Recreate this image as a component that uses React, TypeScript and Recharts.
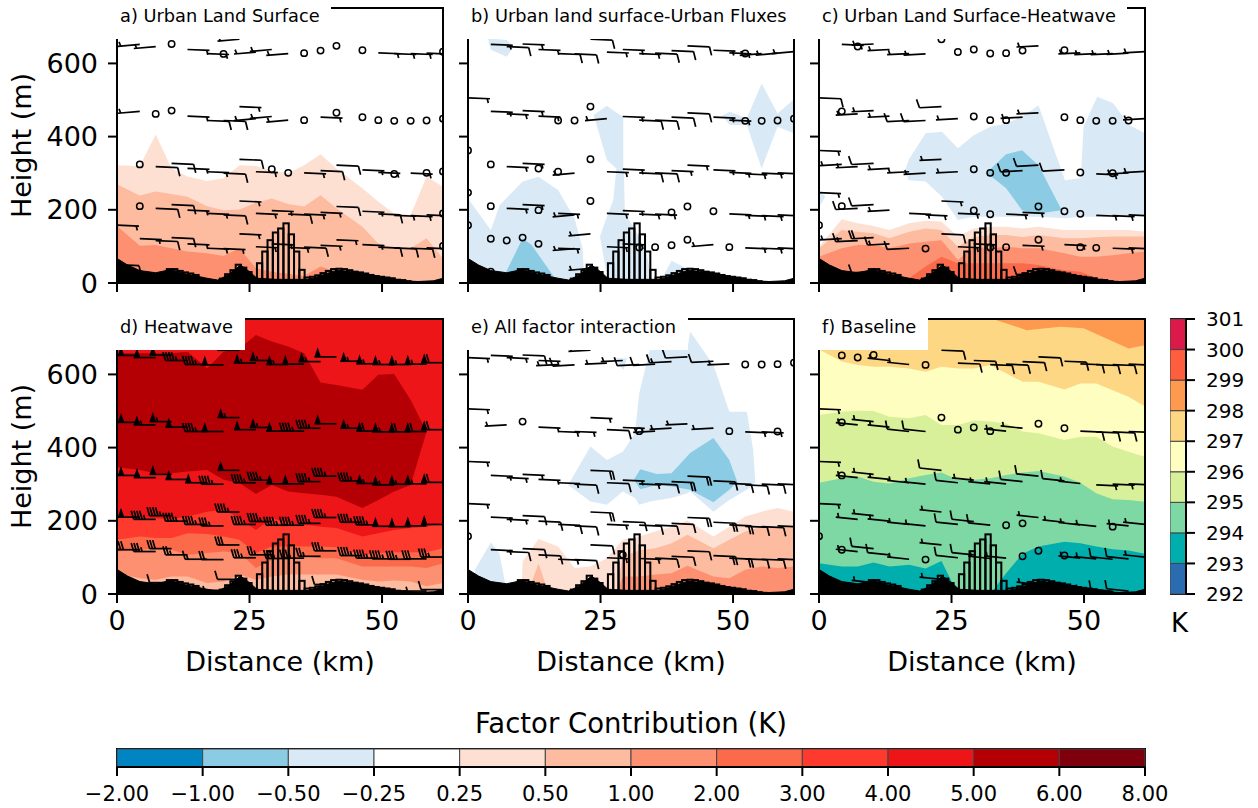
import React from "react"
import { Area, Bar, BarChart, ComposedChart, ReferenceArea, Scatter, XAxis, YAxis } from "recharts"

const n = null

// model columns shared by every panel (km along the cross section)
const gridKm = [0, 4.3, 7.3, 10.3, 13.3, 17, 20.1, 23.1, 26.2, 29.2, 32.3, 35.3, 38.4, 41.4, 46.3, 49.3, 52.3, 55.4, 58.4, 61.5]

// heights of the wind levels (m)
const level1 = [646, 652, 646, 653, 638, 627, 626, 666, 631, 638, 627, 628, 635, 648, 636, 629, 627, 627, 628, 632]
const level2 = [506, 469, 462, 471, 456, 444, 444, 482, 449, 455, 445, 445, 453, 465, 453, 445, 443, 443, 444, 449]
const level3 = [362, 324, 318, 327, 313, 304, 300, 338, 304, 311, 301, 301, 307, 322, 309, 302, 298, 300, 301, 305]
const level4 = [247, 210, 204, 214, 199, 190, 186, 224, 190, 198, 188, 188, 193, 209, 196, 189, 185, 184, 186, 190]
const level5 = [158, 121, 116, 124, 107, 95, 94, 134, 99, 107, 97, 98, 103, 118, 105, 98, 96, 95, 96, 101]
const level6 = [50, 31, 26, 31, 19, 13, 10, 40, 13, 19, 10, 10, 13, 26, 17, 12, 8, 7, 8, 12]
const levels = [level1, level2, level3, level4, level5, level6]

const terrainKm = [0, 2, 4.3, 7.3, 10.2, 12.6, 17, 19, 21, 23.3, 25, 26.4, 30, 36, 37, 39.6, 41.5, 44.6, 49, 53.5, 56.6, 59.7, 61.5]
const terrainHeight = [67, 49, 34, 28, 37, 26, 13, 8, 22, 49, 31, 13, 10, 10, 13, 26, 35, 31, 17, 6, 4, 6, 13]

const urbanKm = [9.9, 10.9, 11.9, 12.9, 13.9, 14.9, 19.9, 20.9, 21.9, 22.9, 23.9, 24.9, 25.9, 26.9, 27.9, 28.9, 29.9, 30.9, 31.9, 32.9, 33.9, 34.9, 35.9, 36.9, 37.9, 38.9, 39.9, 40.9, 41.9, 42.9, 43.9, 44.9, 45.9, 46.9, 47.9, 48.9, 49.9, 50.9, 51.9, 52.9, 53.9, 54.9, 55.9]
const urbanHeight = [38, 38, 33, 29, 26, 22, 12, 24, 35, 50, 42, 30, 12, 54, 86, 117, 138, 149, 163, 133, 86, 36, 15, 17, 21, 27, 33, 38, 39, 38, 35, 31, 29, 26, 22, 19, 17, 15, 13, 9, 8, 5, 3]

// factor contribution colours
const blue1 = "#8ccbe4"
const blue2 = "#d9eaf6"
const red025 = "#fee0d3"
const red05 = "#fdbba0"
const red1 = "#fc9070"
const red2 = "#fb6a4a"
const red3 = "#fe3a2e"
const red4 = "#ee1519"
const red5 = "#b40005"

// panel a
const aTop025 = [322, 320, 406, 313, 291, 279, 286, 322, 320, 307, 300, 322, 352, 313, 259, 222, 190, 186, 291, 263]
const aTop05 = [270, 239, 250, 243, 236, 210, 199, 201, 219, 231, 216, 209, 240, 204, 154, 108, 95, 95, 122, 67]
const aTop1 = [156, 102, 104, 95, 86, 81, 74, 95, 40, 31, 25, 19, 45, 31, 13, 0, 0, 0, 0, 0]
const aWind1 = [-1, -1, -1, 0, 1, 1, 0, -1, -1, -1, -1, 0, 0, 0, 0, 1, 1, 1, 1, 0]
const aWind2 = [-1, -1, 0, 0, 1, 2, 2, 1, -1, -1, -1, 0, 1, 0, 0, 0, 0, 0, 0, 0]
const aWind3 = [n, 0, 2, 2, 1, 1, 2, 2, 1, 0, 0, 1, 2, 2, 1, 1, 0, 1, 0, 0]
const aWind4 = [n, 0, 2, 2, 1, 1, 2, 1, 1, 1, 2, 1, 1, 2, 1, 2, 1, 1, 1, 0]
const aWind5 = [1, 1, 2, 2, 1, 1, 1, 1, 1, 1, 1, 2, 1, 1, 1, 2, 2, 2, 1, 0]
const aWind6 = [2, n, n, n, n, n, n, n, n, n, n, n, n, n, n, n, n, n, n, n]

// panel b
const bTopKm = [3.8, 4.3, 7.3, 8.6]
const bTopLo = [666, 637, 618, 646]
const bTopHi = [666, 668, 664, 646]
const bLeftKm = [0, 4.3, 6, 10.3, 13.3, 17, 20.1, 21.6, 22]
const bLeftHi = [231, 145, 213, 277, 290, 254, 177, 95, 4]
const bCoreKm = [7, 10.3, 12, 16.4]
const bCoreHi = [25, 122, 104, 13]
const bUpperKm = [23.7, 26.2, 28, 29.3]
const bUpperLo = [459, 336, 313, 309]
const bUpperHi = [459, 484, 465, 454]
const bLowerKm = [24.9, 26.2, 27.4, 28, 29.4, 29.6, 31.2, 33.7, 34.7]
const bLowerLo = [127, 20, 0, 0, 0, 0, 0, 0, 0]
const bLowerHi = [127, 181, 227, 313, 313, 190, 154, 81, 4]
const bFootKm = [36.5, 38.4, 41.9, 44]
const bFootHi = [10, 61, 35, 0]
const bRightKm = [47.9, 49.4, 52.6, 55.4, 58.4, 61.5]
const bRightLo = [457, 432, 432, 313, 427, 409]
const bRightHi = [457, 468, 450, 545, 463, 502]
const bWind1 = [n, 1, 2, 1, 1, 2, 2, 2, 1, 1, 1, 2, 2, 2, 1, 1, 0, -1, -1, -1]
const bWind2 = [1, 1, 1, 1, 1, 0, 0, 0, -1, 1, 2, 2, 2, 2, 1, 1, 0, 0, 0, 0]
const bWind3 = [0, 0, 1, 1, 0, 0, -1, 0, 1, 1, 2, 2, 1, 1, 1, 1, 1, 1, 1, n]
const bWind4 = [0, 0, 1, 1, 0, 1, -1, 0, 1, 1, 1, 1, 0, 0, 0, 1, 1, 1, 1, n]
const bWind5 = [0, 0, 0, 0, 0, 1, -1, -1, 1, 1, 0, 0, 0, 0, -1, 0, 1, 1, 1, n]
const bWind6 = [n, 0, -1, n, n, n, n, -1, n, n, n, n, n, n, n, n, n, n, n, n]

// panel c
const cTop025 = [99, 174, 163, 156, 145, 163, 170, 168, 127, 149, 154, 154, 149, 154, 145, 145, 145, 145, 145, 140]
const cTop05 = [95, 145, 140, 136, 122, 140, 149, 145, 99, 126, 131, 131, 126, 131, 122, 122, 125, 127, 127, 127]
const cTop1 = [72, 95, 104, 104, 95, 108, 113, 117, 63, 99, 95, 99, 95, 95, 81, 72, 72, 76, 81, 86]
const cTop2 = [0, 0, 0, 0, 0, 13, 45, 72, 54, 54, 54, 54, 54, 49, 35, 31, 13, 4, 0, 0]
const cCoolKm = [16.3, 16.9, 20.1, 23.2, 26.2, 29.2, 32.3, 35.3, 38.3, 41.4, 46.4, 49.4, 49.9, 52.5, 55.5, 58.5, 61.5]
const cCoolLo = [309, 281, 277, 236, 172, 181, 181, 181, 181, 181, 177, 181, 181, 181, 181, 181, 186]
const cCoolHi = [309, 336, 409, 413, 368, 404, 427, 436, 454, 486, 281, 286, 427, 509, 491, 432, 409]
const cCoreKm = [31.6, 35.3, 38.3, 41.4, 45.8]
const cCoreLo = [301, 259, 199, 190, 199]
const cCoreHi = [301, 352, 363, 322, 199]
const cEdgeKm = [0, 1.2]
const cEdgeLo = [208, 236]
const cEdgeHi = [254, 236]
const cWind1 = [n, 1, 0, -1, -1, -1, -1, 0, 0, 0, 0, 0, 0, -1, 0, -1, -1, -1, -1, -1]
const cWind2 = [2, 0, -1, -1, -1, -2, -2, -2, -1, 0, 0, 0, -1, -1, 0, 0, 0, 0, 0, -1]
const cWind3 = [1, -1, -1, -2, -1, -1, -1, -1, -1, 0, 0, 0, -2, -2, -2, 0, 1, 0, -1, -1]
const cWind4 = [1, 0, -2, -2, -1, 1, 1, 1, 1, 0, 0, 1, 1, 0, 0, 0, 1, 1, 2, n]
const cWind5 = [0, -3, -3, -4, -3, -2, 0, 2, 1, 1, 0, 0, 1, 0, 1, 0, 0, 1, 1, n]
const cWind6 = [n, n, n, -2, n, n, n, n, n, n, n, n, n, -2, n, n, n, n, n, n]

// panel d
const dHotLo = [346, 339, 330, 330, 335, 339, 312, 303, 273, 298, 280, 275, 271, 266, 235, 257, 280, 298, 444]
const dHotHi = [658, 658, 658, 658, 662, 617, 662, 671, 708, 690, 676, 658, 578, 571, 558, 599, 601, 530, 444]
const dTop3 = [210, 210, 207, 205, 212, 225, 230, 207, 175, 207, 194, 189, 184, 180, 157, 166, 175, 180, 184, 194]
const dTop2 = [148, 157, 153, 153, 166, 164, 157, 148, 112, 130, 130, 130, 130, 128, 107, 112, 114, 114, 114, 125]
const dTop1 = [116, 121, 125, 121, 107, 112, 116, 112, 71, 93, 98, 103, 98, 98, 75, 75, 75, 75, 71, 84]
const dTop05 = [57, 43, 39, 48, 48, 30, 34, 53, 39, 48, 53, 53, 53, 53, 39, 34, 37, 34, 21, 30]
const dCeiling = [752, 752, 752, 752, 752, 752, 752, 752, 752, 752, 752, 752, 752, 752, 752, 752, 752, 752, 752, 752]
const dWind1 = [n, -10, -10, -10, -9, -9, -10, -10, -11, -11, -11, -10, -11, -10, -11, -11, -11, -11, -11, -12]
const dWind2 = [n, -10, -11, -11, -10, -9, -10, -11, -10, -11, -10, -9, -9, -10, -11, -12, -11, -12, -12, -12]
const dWind3 = [n, -10, -10, -10, -10, -10, -9, -10, -9, -9, -10, -10, -9, -9, -9, -11, -11, -11, -11, -12]
const dWind4 = [n, -10, -9, -9, -9, -9, -7, -9, -9, -9, -9, -9, -9, -9, -9, -9, -10, -10, -10, -10]
const dWind5 = [n, -6, -7, -6, -5, -3, -4, -6, -7, -5, -7, -7, -5, -7, -9, -9, -9, -7, -6, -7]
const dWind6 = [n, n, n, -2, n, n, -1, -2, n, n, n, n, n, -2, n, n, n, n, -1, -2]

// panel e
const eColdKm = [1.3, 4.3, 5.9, 7]
const eColdHi = [66, 141, 112, 30]
const eTop025Km = [10.1, 10.3, 13.3, 17, 20.1, 23.1, 26.2, 29.2, 32.3, 35.3, 38.4, 41.4, 46.3, 49.3, 52.3, 55.4, 58.4, 61.5]
const eTop025 = [3, 89, 150, 130, 71, 75, 98, 148, 157, 171, 184, 201, 157, 184, 212, 225, 235, 225]
const eTop05Km = [28, 29.2, 32.3, 35.3, 38.4, 41.4, 46.3, 49.3, 52.3, 55.4, 58.4, 61.5]
const eTop05 = [3, 103, 119, 125, 139, 162, 125, 148, 171, 184, 180, 186]
const eTop1Km = [28, 29.2, 32.3, 35.3, 38.4, 41.4, 46.3, 49.3, 52.3, 55.4, 58.4, 61.5]
const eTop1 = [0, 48, 48, 53, 57, 77, 48, 43, 66, 75, 71, 75]
const eSpikeKm = [11.7, 13.3, 14.8]
const eSpikeHi = [20, 84, 20]
const eCoolKm = [18.9, 23.1, 26.2, 29.2, 31.5, 32.3, 34.3, 38.4, 41.4, 41.9, 46.3, 49.3, 52.6, 53.8, 54.2]
const eCoolLo = [298, 253, 244, 280, 262, 244, 253, 262, 275, 280, 225, 257, 285, 298, 307]
const eCoolHi = [298, 403, 366, 389, 439, 548, 669, 669, 669, 717, 626, 498, 498, 394, 307]
const eNickKm = [27.7, 29.3, 30]
const eNickLo = [644, 612, 644]
const eNickHi = [644, 644, 644]
const eCoreKm = [31.3, 32.5, 35.6, 38.4, 41.9, 46.3, 49.3, 50.8]
const eCoreLo = [312, 286, 298, 294, 285, 251, 285, 307]
const eCoreHi = [312, 341, 328, 330, 385, 426, 366, 307]
const eWind1 = [1, 1, 1, 2, 1, -1, -2, -1, -1, -1, -2, -2, -3, -2, -2, -1, 0, 0, 0, 0]
const eWind2 = [1, n, -1, 0, 1, 1, 1, 1, 2, 1, 0, -1, -1, -1, -1, 0, 1, 1, 0, n]
const eWind3 = [1, 1, 1, 1, 1, 1, 2, 4, 2, 1, 1, 2, 4, 4, 2, 2, 2, 2, 2, n]
const eWind4 = [1, 1, 1, 2, 2, 2, 2, 4, 1, 2, 2, 2, 2, 4, 4, 4, 2, 2, 2, n]
const eWind5 = [0, 1, 2, 2, 2, 1, 2, 2, 1, 0, 1, 2, 2, 2, 4, 4, 2, 2, 2, n]

// panel f
const fCeiling = dCeiling
const fWarmKm = [33.5, 39.2, 45.5, 49.9, 58.4, 61.5]
const fWarmLo = [748, 721, 730, 726, 671, 680]
const fWarmHi = [751, 751, 751, 751, 751, 751]
const fTop296 = [668, 635, 626, 621, 621, 616, 607, 621, 616, 616, 626, 603, 580, 580, 559, 575, 575, 557, 539, 512]
const fTop295 = [489, 498, 501, 500, 484, 480, 489, 462, 462, 474, 471, 466, 444, 439, 421, 430, 430, 403, 389, 375]
const fTop294 = [304, 316, 321, 307, 302, 316, 325, 332, 312, 312, 316, 325, 332, 336, 321, 304, 275, 259, 257, 252]
const fTop293 = [84, 75, 75, 86, 75, 80, 70, 90, 0, 0, 0, 57, 110, 130, 143, 139, 130, 122, 119, 110]
const fWind1 = [n, 0, 0, 0, -1, -1, 0, 2, 2, 2, 2, 2, 2, 2, 2, 2, 2, 2, 2, n]
const fWind2 = [1, 0, -1, -1, -1, -2, -2, 0, 0, 0, 0, -1, -1, 0, 0, 2, 2, 2, 2, n]
const fWind3 = [1, 0, -1, -1, -1, -1, -1, -2, -2, -1, -1, -1, -2, -2, -2, -1, 1, 1, 1, n]
const fWind4 = [1, n, -1, -1, -1, -1, -1, -1, -2, -2, -2, 0, 0, -1, -1, -1, -1, 0, -1, -1]
const fWind5 = [0, 0, -1, -2, -2, -1, 0, -1, -2, -2, -1, -1, 0, 0, 0, -1, -1, -2, -2, -1]
const fWind6 = [n, n, n, -1, n, n, n, -1, n, n, n, n, n, -1, n, n, -1, -2, -2, n]

// colour bars
const factorLabels = ["\u22122.00", "\u22121.00", "\u22120.50", "\u22120.25", "0.25", "0.50", "1.00", "2.00", "3.00", "4.00", "5.00", "6.00", "8.00"]
const factorColors = ["#0084c2", blue1, blue2, "#ffffff", red025, red05, red1, red2, red3, red4, red5, "#7e000d"]
const kelvinLabels = ["292", "293", "294", "295", "296", "297", "298", "299", "300", "301"]
const kelvinColors = ["#2b6cb0", "#00aeae", "#7ed8a3", "#d9f09a", "#fefec0", "#fed784", "#fe9a50", "#fe5d3e", "#dc1a49"]

const font = "'DejaVu Sans', sans-serif"
const PLOT_W = 326
const PLOT_H = 275
const LEFT = 117
const TOP = 8
const X_AXIS_H = 84
const KM_PX = 5.3

interface Band { km: number[]; hi: number[]; lo?: number[]; color: string }

function bandRows(b: Band) {
  return b.km.map((km, i) => ({ km, band: [b.lo ? b.lo[i] : 0, b.hi[i]] }))
}

function windRows(rows: (number | null)[][]) {
  const out: { km: number; h: number; s: number }[] = []
  rows.forEach((row, r) => {
    row.forEach((s, i) => {
      if (s !== null) out.push({ km: gridKm[i], h: levels[r][i], s })
    })
  })
  return out
}

// speed is counted in half barbs, the sign says which way the shaft runs
function Barb({ cx, cy, speed, leftTilt }: { cx: number; cy: number; speed: number; leftTilt: number }) {
  if (speed === 0) {
    return <circle cx={cx} cy={cy} r={3.2} fill="none" stroke="#000" strokeWidth={1.5} clipPath="url(#plotClip)" />
  }
  const abs = Math.abs(speed)
  const angle = speed > 0 ? 2.5 : 180 + leftTilt
  let left = abs
  let pos = 22
  const parts: React.ReactNode[] = [<line key="s" x1={0} y1={0} x2={22} y2={0} />]
  while (left >= 10) {
    parts.push(<polygon key={`f${left}`} points={`${pos},0 ${pos - 6.5},0 ${pos - 3.2},9.5`} fill="#000" stroke="none" />)
    pos -= 8
    left -= 10
  }
  while (left >= 2) {
    parts.push(<line key={`b${left}`} x1={pos} y1={0} x2={pos + 2.5} y2={8.5} />)
    pos -= 2.8
    left -= 2
  }
  if (left === 1) {
    if (abs === 1) pos -= 2.8
    parts.push(<line key="h" x1={pos} y1={0} x2={pos + 1.3} y2={4.3} />)
  }
  return (
    <g clipPath="url(#plotClip)">
      <g transform={`translate(${cx},${cy}) rotate(${angle})`} stroke="#000" strokeWidth={1.7} fill="none">
        {parts}
      </g>
    </g>
  )
}

// one km wide outline, whatever width the numeric axis hands the bar
function UrbanBar(p: any) {
  return <rect x={p.x + p.width / 2 - KM_PX / 2} y={p.y} width={KM_PX} height={p.height} fill="none" stroke="#000" strokeWidth={2} />
}

const urbanRows = urbanKm.map((km, i) => ({ km, urban: urbanHeight[i] }))
const terrainRows = terrainKm.map((km, i) => ({ km, ground: terrainHeight[i] }))

interface PanelProps {
  title: string
  titleWidth: number
  left: number
  top: number
  bands: Band[]
  wind: (number | null)[][]
  leftTilt: number
  showY: boolean
  showX: boolean
}

function Panel({ title, titleWidth, left, top, bands, wind, leftTilt, showY, showX }: PanelProps) {
  return (
    <div style={{ position: "absolute", left: left - LEFT, top: top - TOP }}>
      <ComposedChart
        width={LEFT + PLOT_W + 8}
        height={TOP + PLOT_H + X_AXIS_H}
        data={urbanRows}
        margin={{ top: TOP, right: 8, bottom: 0, left: 0 }}
        style={{ fontFamily: font }}
        barCategoryGap={0}
        barGap={0}
      >
        <XAxis
          dataKey="km"
          type="number"
          domain={[0, 61.5]}
          ticks={[0, 25, 50]}
          interval={0}
          allowDataOverflow
          height={X_AXIS_H}
          tickSize={9}
          tickMargin={8}
          axisLine={{ stroke: "#000", strokeWidth: 2 }}
          tickLine={{ stroke: "#000", strokeWidth: 2 }}
          tick={{ fill: "#000", fontSize: 27 }}
          tickFormatter={(v: number) => (showX ? String(v) : "")}
          label={showX ? { value: "Distance (km)", position: "insideBottom", offset: 7, fill: "#000", fontSize: 27 } : undefined}
        />
        <YAxis
          type="number"
          domain={[0, 751.4]}
          ticks={[0, 200, 400, 600]}
          interval={0}
          allowDataOverflow
          width={LEFT}
          tickSize={9}
          tickMargin={10}
          axisLine={{ stroke: "#000", strokeWidth: 2 }}
          tickLine={{ stroke: "#000", strokeWidth: 2 }}
          tick={{ fill: "#000", fontSize: 27 }}
          tickFormatter={(v: number) => (showY ? String(v) : "")}
          label={showY ? { value: "Height (m)", angle: -90, position: "insideLeft", offset: 0, dx: 21, dy: 0, fill: "#000", fontSize: 27, style: { textAnchor: "middle" } } : undefined}
        />
        {bands.map((b, i) => (
          <Area
            key={i}
            data={bandRows(b)}
            dataKey="band"
            type="linear"
            fill={b.color}
            fillOpacity={1}
            stroke="none"
            dot={false}
            activeDot={false}
            isAnimationActive={false}
          />
        ))}
        <Area data={terrainRows} dataKey="ground" type="linear" fill="#000" fillOpacity={1} stroke="#000" dot={false} activeDot={false} isAnimationActive={false} />
        <Bar dataKey="urban" barSize={5.3} shape={UrbanBar} isAnimationActive={false} />
        <Scatter
          data={windRows(wind)}
          dataKey="h"
          isAnimationActive={false}
          shape={(p: any) => <Barb cx={p.cx} cy={p.cy} speed={p.payload.s} leftTilt={leftTilt} />}
        />
        <ReferenceArea x1={0} x2={61.5} y1={0} y2={751.4} fill="none" stroke="#000" strokeWidth={2} ifOverflow="visible" />
      </ComposedChart>
      <div
        style={{
          position: "absolute",
          left: LEFT - 1,
          top: TOP - 2,
          width: titleWidth,
          height: 33,
          background: "#fff",
          fontFamily: font,
          fontSize: 17.8,
          color: "#000",
          lineHeight: "20px",
          paddingLeft: 4,
          whiteSpace: "nowrap",
          boxSizing: "border-box",
        }}
      >
        {title}
      </div>
    </div>
  )
}

function FactorBar() {
  const row: Record<string, number | string> = { name: "factor" }
  factorColors.forEach((_, i) => { row[`s${i}`] = 1 })
  return (
    <BarChart
      width={1028 + 120}
      height={70}
      data={[row]}
      layout="vertical"
      barCategoryGap={0}
      margin={{ top: 2, right: 60, bottom: 0, left: 60 }}
      style={{ fontFamily: font, position: "absolute", left: 57, top: 747 }}
    >
      <XAxis
        type="number"
        domain={[0, 12]}
        ticks={factorLabels.map((_, i) => i)}
        interval={0}
        height={50}
        tickSize={9}
        tickMargin={10}
        axisLine={{ stroke: "#000", strokeWidth: 2 }}
        tickLine={{ stroke: "#000", strokeWidth: 2 }}
        tick={{ fill: "#000", fontSize: 21 }}
        tickFormatter={(i: number) => factorLabels[i]}
      />
      <YAxis type="category" dataKey="name" hide />
      {factorColors.map((c, i) => (
        <Bar key={i} dataKey={`s${i}`} stackId="cb" fill={c} stroke="#444" strokeWidth={1} isAnimationActive={false} />
      ))}
      <ReferenceArea x1={0} x2={12} fill="none" stroke="#000" strokeWidth={2} ifOverflow="visible" />
    </BarChart>
  )
}

function KelvinBar() {
  const row: Record<string, number | string> = { name: "kelvin" }
  kelvinColors.forEach((_, i) => { row[`s${i}`] = 1 })
  return (
    <BarChart
      width={16 + 72}
      height={275 + 24}
      data={[row]}
      barCategoryGap={0}
      margin={{ top: 12, right: 0, bottom: 12, left: 0 }}
      style={{ fontFamily: font, position: "absolute", left: 1170, top: 307 }}
    >
      <XAxis dataKey="name" hide />
      <YAxis
        orientation="right"
        type="number"
        domain={[0, 9]}
        ticks={kelvinLabels.map((_, i) => i)}
        interval={0}
        width={72}
        tickSize={9}
        tickMargin={11}
        axisLine={{ stroke: "#000", strokeWidth: 2 }}
        tickLine={{ stroke: "#000", strokeWidth: 2 }}
        tick={{ fill: "#000", fontSize: 20 }}
        tickFormatter={(i: number) => kelvinLabels[i]}
      />
      {kelvinColors.map((c, i) => (
        <Bar key={i} dataKey={`s${i}`} stackId="cb" fill={c} stroke="#444" strokeWidth={1} isAnimationActive={false} />
      ))}
      <ReferenceArea y1={0} y2={9} fill="none" stroke="#000" strokeWidth={2} ifOverflow="visible" />
    </BarChart>
  )
}

const panelA: Band[] = [
  { km: gridKm, hi: aTop025, color: red025 },
  { km: gridKm, hi: aTop05, color: red05 },
  { km: gridKm, hi: aTop1, color: red1 },
]
const panelB: Band[] = [
  { km: bTopKm, lo: bTopLo, hi: bTopHi, color: blue2 },
  { km: bLeftKm, hi: bLeftHi, color: blue2 },
  { km: bCoreKm, hi: bCoreHi, color: blue1 },
  { km: bUpperKm, lo: bUpperLo, hi: bUpperHi, color: blue2 },
  { km: bLowerKm, lo: bLowerLo, hi: bLowerHi, color: blue2 },
  { km: bFootKm, hi: bFootHi, color: blue2 },
  { km: bRightKm, lo: bRightLo, hi: bRightHi, color: blue2 },
]
const panelC: Band[] = [
  { km: gridKm, hi: cTop025, color: red025 },
  { km: gridKm, hi: cTop05, color: red05 },
  { km: gridKm, hi: cTop1, color: red1 },
  { km: gridKm, hi: cTop2, color: red2 },
  { km: cCoolKm, lo: cCoolLo, hi: cCoolHi, color: blue2 },
  { km: cCoreKm, lo: cCoreLo, hi: cCoreHi, color: blue1 },
  { km: cEdgeKm, lo: cEdgeLo, hi: cEdgeHi, color: blue2 },
]
const panelD: Band[] = [
  { km: gridKm, hi: dCeiling, color: red4 },
  { km: gridKm.slice(0, 19), lo: dHotLo, hi: dHotHi, color: red5 },
  { km: gridKm, hi: dTop3, color: red3 },
  { km: gridKm, hi: dTop2, color: red2 },
  { km: gridKm, hi: dTop1, color: red1 },
  { km: gridKm, hi: dTop05, color: red05 },
]
const panelE: Band[] = [
  { km: eColdKm, hi: eColdHi, color: blue2 },
  { km: eTop025Km, hi: eTop025, color: red025 },
  { km: eSpikeKm, hi: eSpikeHi, color: red05 },
  { km: eTop05Km, hi: eTop05, color: red05 },
  { km: eTop1Km, hi: eTop1, color: red1 },
  { km: eCoolKm, lo: eCoolLo, hi: eCoolHi, color: blue2 },
  { km: eNickKm, lo: eNickLo, hi: eNickHi, color: blue2 },
  { km: eCoreKm, lo: eCoreLo, hi: eCoreHi, color: blue1 },
]
const panelF: Band[] = [
  { km: gridKm, hi: fCeiling, color: kelvinColors[5] },
  { km: fWarmKm, lo: fWarmLo, hi: fWarmHi, color: kelvinColors[6] },
  { km: gridKm, hi: fTop296, color: kelvinColors[4] },
  { km: gridKm, hi: fTop295, color: kelvinColors[3] },
  { km: gridKm, hi: fTop294, color: kelvinColors[2] },
  { km: gridKm, hi: fTop293, color: kelvinColors[1] },
]

export default function App() {
  return (
    <div style={{ position: "absolute", left: 0, top: 0, width: 1258, height: 808, background: "#fff", overflow: "hidden" }}>
      <svg width={0} height={0} style={{ position: "absolute" }}>
        <defs>
          <clipPath id="plotClip" clipPathUnits="userSpaceOnUse">
            <rect x={LEFT} y={TOP} width={PLOT_W} height={PLOT_H} />
          </clipPath>
        </defs>
      </svg>
      <Panel title="a) Urban Land Surface" titleWidth={215} left={117} top={8} bands={panelA} wind={[aWind1, aWind2, aWind3, aWind4, aWind5, aWind6]} leftTilt={-5} showY showX={false} />
      <Panel title="b) Urban land surface-Urban Fluxes" titleWidth={330} left={468} top={8} bands={panelB} wind={[bWind1, bWind2, bWind3, bWind4, bWind5, bWind6]} leftTilt={-5} showY={false} showX={false} />
      <Panel title="c) Urban Land Surface-Heatwave" titleWidth={309} left={819} top={8} bands={panelC} wind={[cWind1, cWind2, cWind3, cWind4, cWind5, cWind6]} leftTilt={-3} showY={false} showX={false} />
      <Panel title="d) Heatwave" titleWidth={129} left={117} top={319} bands={panelD} wind={[dWind1, dWind2, dWind3, dWind4, dWind5, dWind6]} leftTilt={0} showY showX />
      <Panel title="e) All factor interaction" titleWidth={221} left={468} top={319} bands={panelE} wind={[eWind1, eWind2, eWind3, eWind4, eWind5]} leftTilt={-3} showY={false} showX />
      <Panel title="f) Baseline" titleWidth={110} left={819} top={319} bands={panelF} wind={[fWind1, fWind2, fWind3, fWind4, fWind5, fWind6]} leftTilt={6} showY={false} showX />
      <KelvinBar />
      <FactorBar />
      <div style={{ position: "absolute", left: 1171, top: 608, fontFamily: font, fontSize: 26, color: "#000" }}>K</div>
      <div style={{ position: "absolute", left: 117, width: 1028, top: 707, textAlign: "center", fontFamily: font, fontSize: 27.5, color: "#000" }}>Factor Contribution (K)</div>
    </div>
  )
}
